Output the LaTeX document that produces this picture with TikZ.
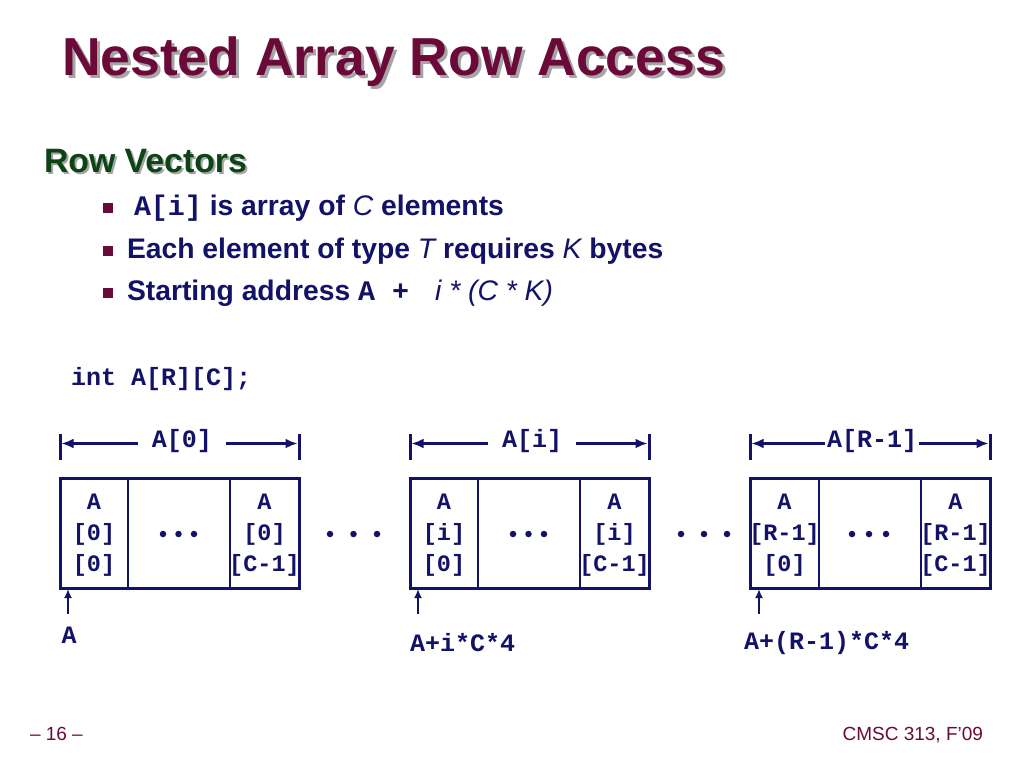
\documentclass[tikz,border=0pt]{standalone}
\usepackage{fontspec}
\setmainfont{Liberation Sans}
\setmonofont{Liberation Mono}
\usetikzlibrary{arrows.meta}
\definecolor{maroon}{RGB}{107,10,56}
\definecolor{navy}{RGB}{18,18,104}
\definecolor{dgreen}{RGB}{12,68,22}
\definecolor{shadowgray}{RGB}{165,165,165}
\begin{document}
\begin{tikzpicture}[x=1pt,y=-1pt,
  every node/.style={inner sep=0pt, outer sep=0pt},
  ttb/.style={font=\fontsize{25}{25}\selectfont\ttfamily\bfseries, text=navy},
  cellt/.style={font=\fontsize{23.5}{31}\selectfont\ttfamily\bfseries, text=navy, align=center},
  bul/.style={font=\fontsize{28.3}{30}\selectfont\bfseries, text=navy, anchor=base west},
  sq/.style={fill=maroon, minimum size=10pt},
  dimline/.style={draw=navy, line width=3pt, -{Latex[length=12pt,width=10pt]}},
  tickline/.style={draw=navy, line width=3pt},
  cellbox/.style={draw=navy, line width=1.5pt, minimum height=110pt},
  boxframe/.style={draw=navy, line width=3pt, minimum height=110pt},
  ptr/.style={draw=navy, line width=2.8pt, -{Latex[length=9pt,width=8pt]}},
  bdot/.style={fill=navy, circle, minimum size=6.5pt},
  foot/.style={font=\fontsize{19}{20}\selectfont, text=maroon, anchor=base west},
]
\useasboundingbox (0,0) rectangle (1024,768);
\fill[white] (0,0) rectangle (1024,768);

% title
\node[anchor=base west, font=\fontsize{53.5}{60}\selectfont\bfseries, text=shadowgray] (titlesh) at (65,78) {Nested Array Row Access};
\node[anchor=base west, font=\fontsize{53.5}{60}\selectfont\bfseries, text=maroon] (title) at (62,75) {Nested Array Row Access};

% subtitle
\node[anchor=base west, font=\fontsize{33.8}{36}\selectfont\bfseries, text=shadowgray] (subsh) at (46,174) {Row Vectors};
\node[anchor=base west, font=\fontsize{33.8}{36}\selectfont\bfseries, text=dgreen] (sub) at (44,172) {Row Vectors};

% bullets
\node[sq] (b1) at (108,208) {};
\node[sq] (b2) at (108,251) {};
\node[sq] (b3) at (108,293) {};
\node[bul] (t1) at (134,215) {{\ttfamily A[i]} is array of {\mdseries\itshape C} elements};
\node[bul] (t2) at (127,258) {Each element of type {\mdseries\itshape T} requires {\mdseries\itshape K} bytes};
\node[bul] (t3) at (127,300) {Starting address {\ttfamily A +}\hspace{26pt}{\mdseries\itshape i * (C * K)}};

% declaration
\node[ttb, anchor=west] (decl) at (71,379) {int A[R][C];};

% ---- box 0
\node[cellbox, minimum width=68pt] (c00) at (94,533) {};
\node[cellbox, minimum width=102pt] (c01) at (179,533) {};
\node[cellbox, minimum width=69pt] (c02) at (264.5,533) {};
\node[boxframe, minimum width=239pt] (box0) at (179.5,533) {};
\node[cellt] (x00) at (94,535) {A\\{}[0]\\{}[0]};
\node[cellt] (x02) at (264.5,535) {A\\{}[0]\\{}[C-1]};
\node[bdot] (d00) at (163,534) {};
\node[bdot] (d01) at (178.5,534) {};
\node[bdot] (d02) at (194,534) {};

% ---- box i
\node[cellbox, minimum width=68pt] (c10) at (444,533) {};
\node[cellbox, minimum width=102pt] (c11) at (529,533) {};
\node[cellbox, minimum width=69pt] (c12) at (614.5,533) {};
\node[boxframe, minimum width=239pt] (box1) at (529.5,533) {};
\node[cellt] (x10) at (444,535) {A\\{}[i]\\{}[0]};
\node[cellt] (x12) at (614.5,535) {A\\{}[i]\\{}[C-1]};
\node[bdot] (d10) at (513,534) {};
\node[bdot] (d11) at (528.5,534) {};
\node[bdot] (d12) at (544,534) {};

% ---- box R-1
\node[cellbox, minimum width=69pt] (c20) at (784.5,533) {};
\node[cellbox, minimum width=102pt] (c21) at (870,533) {};
\node[cellbox, minimum width=69pt] (c22) at (955.5,533) {};
\node[boxframe, minimum width=240pt] (box2) at (870,533) {};
\node[cellt] (x20) at (784.5,535) {A\\{}[R-1]\\{}[0]};
\node[cellt] (x22) at (955.5,535) {A\\{}[R-1]\\{}[C-1]};
\node[bdot] (d20) at (852,534) {};
\node[bdot] (d21) at (869,534) {};
\node[bdot] (d22) at (886,534) {};

% dots between boxes
\node[bdot] (e00) at (330,534) {};
\node[bdot] (e01) at (353.5,534) {};
\node[bdot] (e02) at (377,534) {};
\node[bdot] (e10) at (681,534) {};
\node[bdot] (e11) at (704,534) {};
\node[bdot] (e12) at (727,534) {};

% dimension lines
\draw[tickline] (60,434) -- (60,460);
\draw[tickline] (299,434) -- (299,460);
\draw[tickline] (410,434) -- (410,460);
\draw[tickline] (649,434) -- (649,460);
\draw[tickline] (750,434) -- (750,460);
\draw[tickline] (990,434) -- (990,460);
\coordinate (l0) at (61.5,443.5); \coordinate (r0) at (297.5,443.5);
\coordinate (l1) at (411.5,443.5); \coordinate (r1) at (647.5,443.5);
\coordinate (l2) at (751.5,443.5); \coordinate (r2) at (988.5,443.5);
\node[ttb, inner xsep=14pt] (lab0) at (182,441.5) {A[0]};
\node[ttb, inner xsep=14pt] (lab1) at (532,441.5) {A[i]};
\node[ttb, inner xsep=2pt] (lab2) at (872,441.5) {A[R-1]};
\draw[dimline] (lab0.west |- l0) -- (l0);
\draw[dimline] (lab0.east |- r0) -- (r0);
\draw[dimline] (lab1.west |- l1) -- (l1);
\draw[dimline] (lab1.east |- r1) -- (r1);
\draw[dimline] (lab2.west |- l2) -- (l2);
\draw[dimline] (lab2.east |- r2) -- (r2);

% pointers
\node[ttb] (p0) at (69,635) {A};
\node[ttb, anchor=west] (p1) at (410,643) {A+i*C*4};
\node[ttb, anchor=west] (p2) at (744,643) {A+(R-1)*C*4};
\coordinate (q0s) at (68,614); \coordinate (q0e) at (68,589);
\coordinate (q1s) at (418,614); \coordinate (q1e) at (418,589);
\coordinate (q2s) at (759,614); \coordinate (q2e) at (759,589);
\draw[ptr] (q0s) -- (q0e);
\draw[ptr] (q1s) -- (q1e);
\draw[ptr] (q2s) -- (q2e);

% footer
\node[foot] (pg) at (30,740) {– 16 –};
\node[foot, anchor=base east] (course) at (983,740) {CMSC 313, F’09};
\end{tikzpicture}
\end{document}
